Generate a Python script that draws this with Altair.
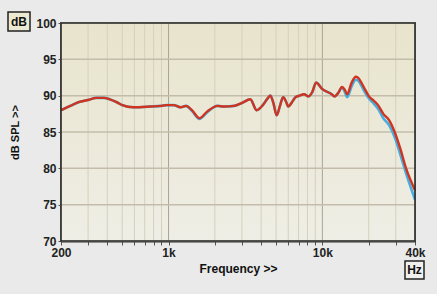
import altair as alt
import pandas as pd

# ---- data ----
freq = [200, 230, 260, 300, 340, 380, 415, 460, 500, 590, 760, 900, 970, 1080,
        1200, 1300, 1420, 1590, 1780, 2080, 2300, 2670, 3000, 3400, 3740, 4100,
        4400, 4590, 4800, 5050, 5300, 5560, 5800, 6000, 6300, 6700, 7100, 7600,
        8100, 8600, 9100, 10000, 11500, 12000, 12700, 13400, 14000, 14500, 15500,
        16500, 17200, 17800, 19000, 20100, 21600, 23000, 24900, 27200, 29500,
        32000, 35000, 40000]
red_db = [88.0, 88.6, 89.1, 89.4, 89.7, 89.7, 89.5, 89.1, 88.7, 88.4, 88.5, 88.6,
          88.7, 88.7, 88.4, 88.6, 88.0, 86.9, 87.8, 88.6, 88.5, 88.6, 89.0, 89.5,
          88.0, 88.7, 89.6, 90.0, 89.0, 87.3, 88.6, 89.8, 89.2, 88.5, 89.0, 89.8,
          90.0, 90.2, 89.9, 90.5, 91.8, 90.9, 90.2, 89.9, 90.4, 91.2, 90.8, 90.2,
          91.8, 92.6, 92.4, 91.9, 90.8, 89.9, 89.3, 88.7, 87.5, 86.6, 85.0, 82.8,
          80.0, 77.0]
blue_db = [88.0, 88.6, 89.1, 89.4, 89.7, 89.7, 89.5, 89.1, 88.7, 88.4, 88.5, 88.6,
           88.7, 88.7, 88.4, 88.6, 87.9, 86.8, 87.7, 88.6, 88.5, 88.6, 89.0, 89.5,
           88.0, 88.7, 89.6, 90.0, 89.0, 87.3, 88.6, 89.8, 89.2, 88.5, 89.0, 89.8,
           90.0, 90.2, 89.9, 90.5, 91.8, 90.9, 90.2, 89.9, 90.4, 91.1, 90.5, 89.8,
           91.3, 92.2, 92.0, 91.5, 90.4, 89.6, 88.9, 88.2, 86.9, 85.9, 84.3, 82.0,
           79.3, 75.7]

grid_freqs = [200, 300, 400, 500, 600, 700, 800, 900, 1000, 2000, 3000, 4000,
              5000, 6000, 7000, 8000, 9000, 10000, 20000, 30000, 40000]
major_freqs = [1000, 10000]
db_ticks = [70, 75, 80, 85, 90, 95, 100]

W, H = 354, 218
FONT = "Liberation Sans"

xscale = alt.Scale(type="log", domain=[200, 40000], nice=False)
yscale = alt.Scale(domain=[70, 100], nice=False)

red_df = pd.DataFrame({"f": freq, "db": red_db})
blue_df = pd.DataFrame({"f": freq, "db": blue_db})
vgrid = pd.DataFrame({"f": grid_freqs,
                      "major": [f in major_freqs for f in grid_freqs]})
hgrid = pd.DataFrame({"db": db_ticks})
one = pd.DataFrame({"a": [0]})

label_expr = ("datum.value == 200 ? '200' : datum.value == 1000 ? '1k' : "
              "datum.value == 10000 ? '10k' : datum.value == 40000 ? '40k' : ''")

x_axis = alt.Axis(values=grid_freqs, labelExpr=label_expr, grid=False,
                  title="Frequency >>", tickSize=4, tickColor="#555",
                  domainColor="#333", domainWidth=2,
                  labelFont=FONT, labelFontWeight="bold", labelFontSize=12,
                  labelColor="#222", labelPadding=2, labelFlush=False,
                  labelOverlap=False,
                  titleFont=FONT, titleFontWeight="bold", titleFontSize=12,
                  titleColor="#111", titleX=177, titleY=22)
y_axis = alt.Axis(values=db_ticks, grid=False, title="dB SPL >>",
                  tickSize=3, tickColor="#555", domainColor="#333",
                  domainWidth=2, labelFont=FONT, labelFontWeight="bold",
                  labelFontSize=12, labelColor="#222", labelPadding=2,
                  labelOverlap=False,
                  titleFont=FONT, titleFontWeight="bold", titleFontSize=11,
                  titleColor="#111", titleX=-46, titleY=H / 2,
                  titleAlign="center", titleBaseline="middle")

bg = alt.Chart(one).mark_rect(
    color=alt.Gradient(gradient="linear",
                       stops=[alt.GradientStop(color="#e8e4cc", offset=0),
                              alt.GradientStop(color="#efeee6", offset=1)],
                       x1=0, x2=0, y1=0, y2=1)
).encode(x=alt.value(0), x2=alt.value(W), y=alt.value(0), y2=alt.value(H))

vrules = alt.Chart(vgrid).mark_rule(strokeWidth=1).encode(
    x=alt.X("f:Q", scale=xscale, axis=x_axis),
    color=alt.condition("datum.major", alt.value("#aaa496"), alt.value("#d6d0bd"))
)

hrules = alt.Chart(hgrid).mark_rule(strokeWidth=1.5, color="#c4bcab").encode(
    y=alt.Y("db:Q", scale=yscale, axis=y_axis)
)

blue = alt.Chart(blue_df).mark_line(color="#45aee0", strokeWidth=2.6,
                                    interpolate="monotone").encode(
    x=alt.X("f:Q", scale=xscale, axis=x_axis), y=alt.Y("db:Q", scale=yscale, axis=y_axis))
red = alt.Chart(red_df).mark_line(color="#cf3420", strokeWidth=2.4,
                                  interpolate="monotone").encode(
    x=alt.X("f:Q", scale=xscale, axis=x_axis), y=alt.Y("db:Q", scale=yscale, axis=y_axis))

frame = alt.Chart(one).mark_rect(filled=False, stroke="#2a2a2a", strokeWidth=1.6).encode(
    x=alt.value(0), x2=alt.value(W), y=alt.value(0), y2=alt.value(H))

db_box = alt.Chart(one).mark_rect(fill="#ece9d2", stroke="#222", strokeWidth=1.5).encode(
    x=alt.value(-53), x2=alt.value(-31), y=alt.value(-11), y2=alt.value(8))
db_txt = alt.Chart(one).mark_text(text="dB", font=FONT, fontWeight="bold", fontSize=12,
                                  color="#111", align="center", baseline="middle").encode(
    x=alt.value(-42), y=alt.value(-1.5))
hz_box = alt.Chart(one).mark_rect(fill="#f0f0ee", stroke="#222", strokeWidth=1.5).encode(
    x=alt.value(344), x2=alt.value(363), y=alt.value(H + 20), y2=alt.value(H + 38))
hz_txt = alt.Chart(one).mark_text(text="Hz", font=FONT, fontWeight="bold", fontSize=12,
                                  color="#111", align="center", baseline="middle").encode(
    x=alt.value(353.5), y=alt.value(H + 29))

chart = alt.layer(bg, vrules, hrules, blue, red, frame, db_box, db_txt, hz_box, hz_txt).properties(
    width=W, height=H,
    autosize=alt.AutoSizeParams(type="none"),
    padding={"left": 61, "top": 23, "right": 22, "bottom": 53},
    background="#e9eae9",
).configure_view(stroke="#2a2a2a", strokeWidth=1.5)

chart.save("out.html", embed_options={"renderer": "svg", "actions": False})
